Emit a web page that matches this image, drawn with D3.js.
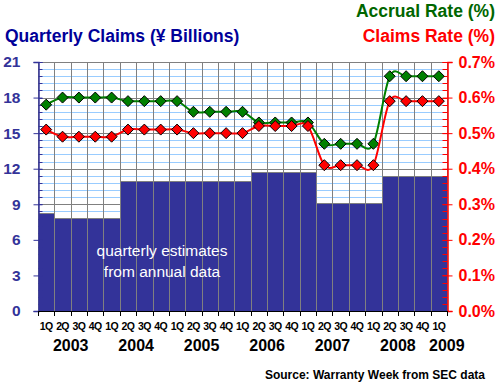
<!DOCTYPE html>
<html>
<head>
<meta charset="utf-8">
<script src="https://cdn.jsdelivr.net/npm/d3@7"></script>
<style>
  body { margin: 0; background: #fff; }
  text { font-family: "Liberation Sans", Arial, sans-serif; }
</style>
</head>
<body>
<div id="chart"></div>
<script>
//data
var periods = ["2003 1Q","2003 2Q","2003 3Q","2003 4Q",
               "2004 1Q","2004 2Q","2004 3Q","2004 4Q",
               "2005 1Q","2005 2Q","2005 3Q","2005 4Q",
               "2006 1Q","2006 2Q","2006 3Q","2006 4Q",
               "2007 1Q","2007 2Q","2007 3Q","2007 4Q",
               "2008 1Q","2008 2Q","2008 3Q","2008 4Q",
               "2009 1Q"];
var years = ["2003","2004","2005","2006","2007","2008","2009"];
var claims = [8.25, 7.85, 7.85, 7.85, 7.85, 11.0, 11.0, 11.0, 11.0, 11.0, 11.0, 11.0, 11.0,
              11.75, 11.75, 11.75, 11.75, 9.15, 9.15, 9.15, 9.15, 11.4, 11.4, 11.4, 11.4];
//rates in percent
var accrualRate = [0.58, 0.60, 0.60, 0.60, 0.60, 0.59, 0.59, 0.59, 0.59, 0.56, 0.56, 0.56, 0.56,
                   0.53, 0.53, 0.53, 0.53, 0.47, 0.47, 0.47, 0.47, 0.66, 0.66, 0.66, 0.66];
var claimsRate = [0.51, 0.49, 0.49, 0.49, 0.49, 0.51, 0.51, 0.51, 0.51, 0.50, 0.50, 0.50, 0.50,
                  0.52, 0.52, 0.52, 0.52, 0.41, 0.41, 0.41, 0.41, 0.59, 0.59, 0.59, 0.59];
var leftTicks = [0, 3, 6, 9, 12, 15, 18, 21];
var rightTicks = [0, 0.1, 0.2, 0.3, 0.4, 0.5, 0.6, 0.7];

var width = 500, height = 387;
var plotLeft = 38, plotRight = 447, plotTop = 62, plotBottom = 311;

var svg = d3.select("#chart").append("svg")
    .attr("width", width)
    .attr("height", height);

var x = d3.scaleBand()
    .domain(d3.range(periods.length))
    .range([plotLeft, plotRight])
    .padding(0);

var yLeft = d3.scaleLinear().domain([0, 21]).range([plotBottom, plotTop]);
var yRight = d3.scaleLinear().domain([0, 0.7]).range([plotBottom, plotTop]);

function px(v) { return Math.round(v) + 0.5; }

//gridlines: minor light blue, major gray
var minor = d3.range(0, 21.01, 0.6);
svg.append("g").selectAll("line")
    .data(minor)
    .enter().append("line")
    .attr("x1", plotLeft).attr("x2", plotRight)
    .attr("y1", function(d) { return px(yLeft(d)); })
    .attr("y2", function(d) { return px(yLeft(d)); })
    .attr("stroke", function(d) {
        return Math.abs(d / 3 - Math.round(d / 3)) < 0.01 ? "#808080" : "#99ccff";
    })
    .attr("stroke-width", 1);

svg.append("g").selectAll("line")
    .data(d3.range(periods.length + 1))
    .enter().append("line")
    .attr("x1", function(i) { return px(plotLeft + i * x.bandwidth()); })
    .attr("x2", function(i) { return px(plotLeft + i * x.bandwidth()); })
    .attr("y1", plotTop).attr("y2", plotBottom)
    .attr("stroke", "#808080");

//bars
svg.append("g").selectAll("rect")
    .data(claims)
    .enter().append("rect")
    .attr("x", function(d, i) { return px(x(i)); })
    .attr("width", function(d, i) { return Math.round(x(i) + x.bandwidth()) - Math.round(x(i)); })
    .attr("y", function(d) { return px(yLeft(d)); })
    .attr("height", function(d) { return plotBottom - Math.round(yLeft(d)); })
    .attr("fill", "#333399")
    .attr("stroke", "#808080")
    .attr("stroke-width", 1);

svg.append("text")
    .attr("x", 162).attr("y", 256)
    .attr("text-anchor", "middle")
    .attr("fill", "white")
    .style("font-size", "15.5px")
    .text("quarterly estimates");
svg.append("text")
    .attr("x", 162).attr("y", 277)
    .attr("text-anchor", "middle")
    .attr("fill", "white")
    .style("font-size", "15.5px")
    .text("from annual data");

//left axis
var leftAxis = d3.axisLeft(yLeft).tickValues(leftTicks).tickSize(5).tickPadding(13);
var gl = svg.append("g")
    .attr("transform", "translate(" + (plotLeft + 0.5) + ",0)")
    .call(leftAxis);
gl.select(".domain").attr("stroke", "#333399").attr("stroke-width", 1.5);
gl.selectAll(".tick line").attr("stroke", "#333399").attr("x2", -5).attr("x1", 4);
gl.selectAll(".tick text")
    .attr("fill", "#333399")
    .style("font-size", "15.5px")
    .style("font-weight", "bold")
    .style("font-family", "'Liberation Sans', Arial, sans-serif");
gl.selectAll("line.minor")
    .data(minor)
    .enter().append("line")
    .attr("class", "minor")
    .attr("x1", 0).attr("x2", 4)
    .attr("y1", function(d) { return px(yLeft(d)); })
    .attr("y2", function(d) { return px(yLeft(d)); })
    .attr("stroke", "#333399");

//right axis
var rightAxis = d3.axisRight(yRight).tickValues(rightTicks).tickSize(5).tickPadding(6)
    .tickFormat(function(d) { return d.toFixed(1) + "%"; });
var gr = svg.append("g")
    .attr("transform", "translate(" + (plotRight + 0.5) + ",0)")
    .call(rightAxis);
gr.select(".domain").attr("stroke", "red").attr("stroke-width", 1.5);
gr.selectAll(".tick line").attr("stroke", "red").attr("x1", -5).attr("x2", 5);
gr.selectAll(".tick text")
    .attr("fill", "red")
    .style("font-size", "16px")
    .style("font-weight", "bold")
    .style("font-family", "'Liberation Sans', Arial, sans-serif");
gr.selectAll("line.minor")
    .data(minor)
    .enter().append("line")
    .attr("class", "minor")
    .attr("x1", -5).attr("x2", 0)
    .attr("y1", function(d) { return px(yLeft(d)); })
    .attr("y2", function(d) { return px(yLeft(d)); })
    .attr("stroke", "red");

//x axis
var gx = svg.append("g");
gx.append("line")
    .attr("x1", plotLeft).attr("x2", plotRight)
    .attr("y1", plotBottom + 0.5).attr("y2", plotBottom + 0.5)
    .attr("stroke", "black");
gx.selectAll("line.tick")
    .data(d3.range(periods.length + 1))
    .enter().append("line")
    .attr("class", "tick")
    .attr("x1", function(i) { return px(plotLeft + i * x.bandwidth()); })
    .attr("x2", function(i) { return px(plotLeft + i * x.bandwidth()); })
    .attr("y1", plotBottom).attr("y2", plotBottom + 5)
    .attr("stroke", "black");
gx.selectAll("text.q")
    .data(periods)
    .enter().append("text")
    .attr("class", "q")
    .attr("x", function(d, i) { return x(i) + x.bandwidth() / 2; })
    .attr("y", 330)
    .attr("text-anchor", "middle")
    .style("font-size", "10.5px")
    .style("font-weight", "bold")
    .style("letter-spacing", "-0.6px")
    .text(function(d) { return d.split(" ")[1]; });
gx.selectAll("text.yr")
    .data(years)
    .enter().append("text")
    .attr("class", "yr")
    .attr("x", function(yr) {
        var idx = [];
        periods.forEach(function(p, i) { if (p.indexOf(yr) == 0) idx.push(i); });
        var c = d3.mean(idx, function(i) { return x(i) + x.bandwidth() / 2; });
        if (idx.length == 1) c += 8;
        return c;
    })
    .attr("y", 351)
    .attr("text-anchor", "middle")
    .style("font-size", "16px")
    .style("font-weight", "bold")
    .text(function(d) { return d; });

//rate lines
var line = d3.line()
    .x(function(d, i) { return x(i) + x.bandwidth() / 2; })
    .y(function(d) { return yRight(d); })
    .curve(d3.curveCardinal.tension(0));

var diamond = {
    draw: function(ctx, size) {
        var r = 5.5;
        ctx.moveTo(0, -r); ctx.lineTo(r, 0); ctx.lineTo(0, r); ctx.lineTo(-r, 0); ctx.closePath();
    }
};

function drawSeries(values, color) {
    svg.append("path")
        .datum(values)
        .attr("fill", "none")
        .attr("stroke", color)
        .attr("stroke-width", 2)
        .attr("d", line);
    svg.append("g").selectAll("path")
        .data(values)
        .enter().append("path")
        .attr("transform", function(d, i) {
            return "translate(" + (x(i) + x.bandwidth() / 2) + "," + yRight(d) + ")";
        })
        .attr("d", d3.symbol().type(diamond))
        .attr("fill", color)
        .attr("stroke", "black")
        .attr("stroke-width", 1);
}
drawSeries(accrualRate, "#008000");
drawSeries(claimsRate, "#ff0000");

//titles
svg.append("text")
    .attr("x", 5).attr("y", 42)
    .attr("fill", "#000099")
    .style("font-size", "17.5px")
    .style("font-weight", "bold")
    .text("Quarterly Claims (¥ Billions)");
svg.append("text")
    .attr("x", 495).attr("y", 17)
    .attr("text-anchor", "end")
    .attr("fill", "#006600")
    .style("font-size", "17.5px")
    .style("font-weight", "bold")
    .text("Accrual Rate (%)");
svg.append("text")
    .attr("x", 495).attr("y", 42)
    .attr("text-anchor", "end")
    .attr("fill", "red")
    .style("font-size", "17.5px")
    .style("font-weight", "bold")
    .text("Claims Rate (%)");
svg.append("text")
    .attr("x", 485).attr("y", 379)
    .attr("text-anchor", "end")
    .style("font-size", "12px")
    .style("font-weight", "bold")
    .text("Source: Warranty Week from SEC data");
</script>
</body>
</html>
